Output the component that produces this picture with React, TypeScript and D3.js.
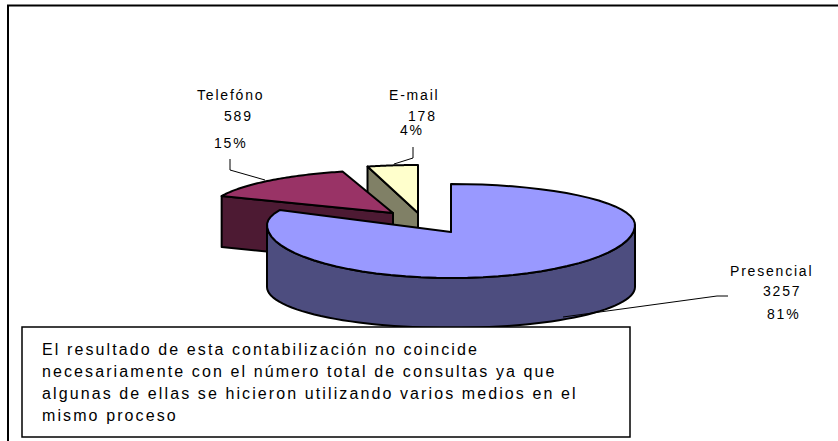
import React from 'react';
import * as d3 from 'd3';

const categories = ['Presencial', 'Telefóno', 'E-mail'];
const counts = [3257, 589, 178];
const percents = ['81%', '15%', '4%'];
const topColors = ['#9999FF', '#993366', '#FFFFCC'];
const wallColors = ['#4D4D7F', '#4D1A33', '#808066'];
const noteLines = [
  'El resultado de esta contabilización no coincide',
  'necesariamente con el número total de consultas ya que',
  'algunas de ellas se hicieron utilizando varios medios en el',
  'mismo proceso',
];

const width = 838, height = 441;
const rx = 184, ryBack = 41, ryFront = 53, ryLower = 41;

// rim centre, apex (slice tip) and wall depth of each exploded slice
const layout = [
  { cx: 451, cy: 225, apexY: 232, depth: 62 },
  { cx: 393, cy: 211, apexY: 213, depth: 51 },
  { cx: 418, cy: 206, apexY: 213, depth: 58 },
];

const labelStyle: React.CSSProperties = {
  fontFamily: '"Liberation Sans", Arial, sans-serif',
  fontSize: 14,
  letterSpacing: 1.8,
  fill: '#000',
};
const noteStyle: React.CSSProperties = { ...labelStyle, fontSize: 16, letterSpacing: 2.1 };

function rimPoint(i: number, a: number): [number, number] {
  const { cx, cy } = layout[i];
  const c = Math.cos(a);
  return [cx + rx * Math.sin(a), cy - c * (c > 0 ? ryBack : ryFront)];
}

export default function App() {
  const arcs = d3.pie<number>().sort(null)(counts);
  const line = d3.line();

  const rim = (i: number, a0: number, a1: number) =>
    d3.range(0, 61).map(k => rimPoint(i, a0 + ((a1 - a0) * k) / 60));

  const topPath = (i: number) => {
    const { cx, apexY } = layout[i];
    const pts = rim(i, arcs[i].startAngle, arcs[i].endAngle);
    return line([[cx, apexY], ...pts]) + 'Z';
  };

  // extruded wall below the slice's first visible edge
  const wallPath = (i: number) => {
    const { cx, cy, apexY, depth } = layout[i];
    if (i === 0) {
      const pts = rim(0, Math.PI / 2, (3 * Math.PI) / 2);
      const lower = pts
        .map((p, k) => {
          const a = Math.PI / 2 + (Math.PI * k) / 60;
          return [p[0], cy + depth - Math.cos(a) * ryLower] as [number, number];
        })
        .reverse();
      return line([...pts, ...lower]) + 'Z';
    }
    const p = rimPoint(i, arcs[i].startAngle);
    return line([
      p,
      [cx, apexY],
      [cx, apexY + depth],
      [p[0], p[1] + depth],
    ]) + 'Z';
  };

  const outline = { stroke: '#000', strokeWidth: 2, strokeLinejoin: 'round' as const };

  return (
    <svg
      width={width}
      height={height}
      style={{ position: 'absolute', left: 0, top: 0, background: '#fff' }}
    >
      <rect x={8} y={5.5} width={height * 2} height={height} fill="none" stroke="#000" strokeWidth={2} />

      {[2, 1, 0].map(i => (
        <g key={categories[i]}>
          <path d={wallPath(i)} fill={wallColors[i]} {...outline} />
          <path d={topPath(i)} fill={topColors[i]} {...outline} />
        </g>
      ))}

      <path d="M230 159V170L265 180" fill="none" stroke="#000" />
      <path d="M413 147V158L394 164" fill="none" stroke="#000" />
      <path d="M728 296H717L563 317" fill="none" stroke="#000" />

      <rect x={22} y={327} width={608} height={110} fill="#fff" stroke="#000" strokeWidth={1.5} />
      {noteLines.map((t, i) => (
        <text key={t} x={42} y={355 + i * 22} style={noteStyle}>{t}</text>
      ))}

      <text x={197} y={100} style={labelStyle}>{categories[1]}</text>
      <text x={224} y={121} style={labelStyle}>{counts[1]}</text>
      <text x={214} y={148} style={labelStyle}>{percents[1]}</text>

      <text x={389} y={100} style={labelStyle}>{categories[2]}</text>
      <text x={408} y={121} style={labelStyle}>{counts[2]}</text>
      <text x={400} y={135} style={labelStyle}>{percents[2]}</text>

      <text x={730} y={276} style={labelStyle}>{categories[0]}</text>
      <text x={763} y={296} style={labelStyle}>{counts[0]}</text>
      <text x={767} y={319} style={labelStyle}>{percents[0]}</text>
    </svg>
  );
}
